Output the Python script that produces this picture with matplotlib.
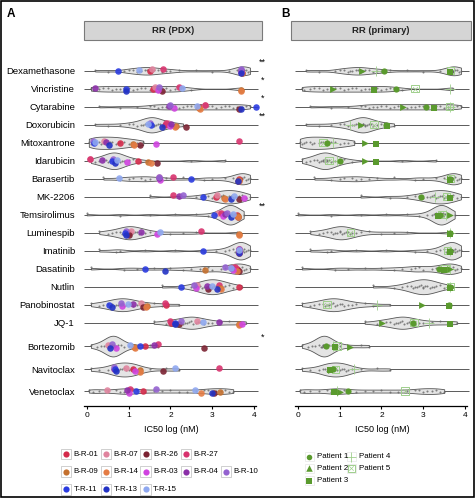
import numpy as np
import matplotlib
matplotlib.use('Agg')
import matplotlib.pyplot as plt
from matplotlib import cbook, mlab
from matplotlib.patches import Rectangle

plt.rcParams['font.family'] = ['Liberation Sans', 'DejaVu Sans']

drugs = ['Dexamethasone', 'Vincristine', 'Cytarabine', 'Doxorubicin', 'Mitoxantrone',
         'Idarubicin', 'Barasertib', 'MK-2206', 'Temsirolimus', 'Luminespib', 'Imatinib',
         'Dasatinib', 'Nutlin', 'Panobinostat', 'JQ-1', 'Bortezomib', 'Navitoclax', 'Venetoclax']

# row positions (Bortezomib, Navitoclax, Venetoclax set apart)
row_pos = [0, 1, 2, 3, 4, 5, 6, 7, 8, 9, 10, 11, 12, 13, 14, 15.3, 16.6, 17.8]

stars = {'Dexamethasone': '**', 'Vincristine': '*', 'Cytarabine': '*',
         'Doxorubicin': '**', 'Temsirolimus': '**', 'Bortezomib': '*'}

samples = ['B-R-01', 'B-R-07', 'B-R-26', 'B-R-27', 'B-R-09', 'B-R-14',
           'B-R-03', 'B-R-04', 'B-R-10', 'T-R-11', 'T-R-13', 'T-R-15']
sample_colors = ['#d42a4a', '#e0849e', '#7b2232', '#d8336e', '#c4702e', '#e47c44',
                 '#d043e0', '#8b2fa8', '#9462d0', '#2a3be0', '#2232c4', '#8fa8f0']

# reference cohort (grey dots / violins), log IC50
ref_ic50 = [
    [0.2, 0.5, 0.9, 1.0, 1.1, 1.2, 1.25, 1.3, 1.4, 1.45, 1.5, 1.55, 1.6, 1.7, 1.8, 1.9, 2.0, 2.2, 2.6, 3.0, 3.4, 3.6, 3.65, 3.7, 3.7, 3.72, 3.75, 3.8, 3.85, 3.9],
    [0.1, 0.15, 0.3, 0.4, 0.5, 0.6, 0.7, 0.8, 0.9, 1.0, 1.1, 1.2, 1.3, 1.4, 1.5, 1.6, 1.7, 1.8, 1.9, 2.0, 2.1, 2.2, 2.3, 2.5, 3.7, 3.7],
    [0.3, 0.8, 1.2, 1.5, 1.6, 1.7, 1.8, 1.9, 2.0, 2.1, 2.2, 2.3, 2.4, 2.5, 2.6, 2.7, 2.8, 2.9, 3.0, 3.1, 3.2, 3.3, 3.4, 3.5, 3.6, 3.7, 3.8, 3.9],
    [0.2, 0.5, 0.8, 1.0, 1.1, 1.2, 1.3, 1.35, 1.4, 1.45, 1.5, 1.5, 1.55, 1.55, 1.6, 1.6, 1.65, 1.7, 1.75, 1.8, 1.9, 2.0, 2.1, 2.3],
    [0.05, 0.1, 0.15, 0.2, 0.3, 0.35, 0.4, 0.5, 0.55, 0.6, 0.7, 0.75, 0.8, 0.9, 1.0, 1.1, 1.2, 1.35],
    [0.1, 0.2, 0.3, 0.4, 0.45, 0.5, 0.55, 0.6, 0.6, 0.65, 0.65, 0.7, 0.7, 0.75, 0.8, 0.85, 0.9, 1.0, 1.1, 1.3, 2.5, 3.3],
    [0.4, 0.8, 1.0, 1.1, 1.3, 1.4, 1.5, 1.7, 1.9, 2.3, 2.8, 3.0, 3.3, 3.5, 3.6, 3.65, 3.7, 3.7, 3.75, 3.8, 3.85, 3.9],
    [1.5, 2.2, 2.6, 2.8, 2.9, 3.0, 3.1, 3.15, 3.2, 3.25, 3.3, 3.35, 3.4, 3.45, 3.5, 3.55, 3.6, 3.65, 3.7, 3.8, 3.9],
    [0.0, 0.8, 1.5, 2.1, 2.6, 2.9, 3.1, 3.2, 3.25, 3.3, 3.33, 3.35, 3.38, 3.4, 3.4, 3.42, 3.44, 3.45, 3.46, 3.48, 3.5, 3.52, 3.55, 3.6, 3.65, 3.75],
    [0.3, 0.5, 0.6, 0.7, 0.8, 0.85, 0.9, 0.95, 1.0, 1.0, 1.05, 1.1, 1.15, 1.2, 1.25, 1.3, 1.4, 1.5, 1.7, 2.0, 2.3, 2.6, 3.6],
    [0.3, 0.7, 0.8, 1.4, 2.1, 2.8, 3.1, 3.3, 3.4, 3.5, 3.55, 3.6, 3.6, 3.65, 3.65, 3.7, 3.7, 3.7, 3.75, 3.75, 3.8, 3.85, 3.9],
    [0.1, 0.9, 1.2, 1.6, 2.0, 2.3, 2.5, 2.7, 2.8, 2.9, 3.0, 3.2, 3.3, 3.4, 3.5, 3.55, 3.6, 3.65, 3.7, 3.75, 3.8, 3.9],
    [1.8, 2.3, 2.5, 2.6, 2.7, 2.75, 2.8, 2.85, 2.9, 2.95, 3.0, 3.0, 3.05, 3.1, 3.15, 3.2, 3.25, 3.3, 3.4, 3.5, 3.7],
    [0.1, 0.3, 0.4, 0.5, 0.6, 0.65, 0.7, 0.75, 0.8, 0.85, 0.9, 0.95, 1.0, 1.05, 1.1, 1.2, 1.3, 1.4, 1.6, 1.8, 2.2],
    [1.6, 1.9, 2.0, 2.1, 2.2, 2.3, 2.35, 2.4, 2.45, 2.5, 2.55, 2.6, 2.65, 2.7, 2.8, 2.9, 3.0, 3.2, 3.4, 3.6, 3.8],
    [0.1, 0.25, 0.35, 0.42, 0.5, 0.55, 0.58, 0.6, 0.6, 0.61, 0.62, 0.63, 0.64, 0.65, 0.66, 0.68, 0.7, 0.75, 0.82, 0.9, 1.0, 1.2, 1.5, 1.7],
    [0.1, 0.3, 0.5, 0.6, 0.65, 0.7, 0.75, 0.8, 0.85, 0.9, 0.95, 1.0, 1.05, 1.1, 1.15, 1.2, 1.3, 1.5, 1.9, 2.2],
    [0.05, 0.15, 0.3, 0.5, 0.7, 0.8, 0.9, 1.0, 1.1, 1.2, 1.4, 1.6, 1.8, 2.0, 2.2, 2.4, 2.6, 2.8, 2.9, 3.0, 3.1, 3.2, 3.3, 3.4, 3.5],
]

# PDX samples, one row per drug, columns in the order of `samples`
pdx_ic50 = [
    [1.50, 1.55, 3.70, 1.82, 3.68, 3.70, 3.69, 3.68, 3.69, 0.74, 3.68, 1.26],
    [1.58, 1.62, 1.79, 2.21, 3.69, 3.69, 1.70, 0.20, 1.72, 0.94, 0.94, 2.27],
    [2.69, 2.83, 3.65, 2.83, 2.69, 2.70, 2.09, 1.97, 2.00, 4.05, 3.69, 2.63],
    [1.87, 1.95, 2.38, 1.90, 2.13, 2.10, 2.00, 2.02, 1.50, 1.53, 1.79, 1.47],
    [0.80, 0.41, 1.27, 3.65, 1.10, 1.12, 1.66, 0.45, 0.16, 0.18, 0.54, 0.20],
    [1.23, 0.08, 1.67, 0.08, 1.47, 1.53, 0.97, 0.36, 0.62, 0.60, 0.68, 0.73],
    [3.63, 1.73, 3.62, 2.05, 3.63, 3.64, 1.74, 1.72, 1.72, 2.49, 3.61, 0.78],
    [3.09, 3.12, 3.65, 2.07, 3.28, 3.30, 3.76, 2.21, 2.29, 2.77, 3.44, 3.52],
    [3.60, 3.14, 3.62, 3.20, 3.61, 3.62, 3.25, 3.30, 3.35, 3.05, 3.45, 3.50],
    [1.02, 1.05, 1.00, 2.72, 3.63, 3.63, 1.67, 1.29, 0.95, 0.92, 0.95, 1.74],
    [3.63, 3.63, 3.63, 3.63, 3.63, 3.63, 3.63, 3.63, 3.63, 2.77, 3.63, 3.63],
    [3.58, 3.50, 3.65, 3.55, 2.83, 3.60, 3.50, 3.44, 3.30, 1.39, 1.87, 3.45],
    [3.65, 2.63, 2.90, 3.15, 3.18, 3.20, 2.60, 2.88, 2.56, 2.25, 3.12, 3.00],
    [1.90, 1.30, 1.35, 1.88, 1.43, 1.42, 0.85, 1.11, 0.81, 0.53, 0.60, 0.98],
    [2.01, 2.63, 2.20, 2.00, 3.63, 3.64, 3.70, 3.17, 2.25, 2.10, 2.12, 2.77],
    [1.40, 0.50, 2.81, 1.71, 1.13, 1.15, 0.70, 1.61, 0.60, 1.27, 0.55, 1.04],
    [1.11, 0.95, 1.83, 3.17, 1.27, 1.28, 1.15, 0.64, 0.66, 0.68, 0.70, 2.10],
    [1.35, 0.49, 3.05, 1.03, 3.18, 2.73, 1.00, 0.97, 1.66, 1.18, 3.00, 2.59],
]

patients = ['Patient 1', 'Patient 2', 'Patient 3', 'Patient 4', 'Patient 5']
# primary samples, one row per drug: Patient 1..5
patient_ic50 = [
    [2.06, 1.54, 3.65, 1.88, 3.65],
    [2.36, 0.84, 1.83, 3.65, 2.80],
    [3.06, 2.52, 3.26, 3.65, 3.62],
    [2.10, 1.51, 2.14, 1.25, 1.82],
    [0.71, 1.60, 1.88, 0.85, 0.60],
    [1.00, 1.60, 1.88, 0.95, 0.75],
    [3.65, 3.65, 3.65, 3.62, 3.65],
    [2.94, 3.65, 3.65, 3.28, 3.55],
    [3.40, 3.65, 3.34, 3.55, 3.45],
    [3.65, 3.65, 3.65, 3.65, 1.26],
    [3.65, 3.65, 3.65, 3.65, 3.58],
    [3.38, 3.65, 3.50, 3.65, 3.52],
    [3.65, 3.66, 3.65, 3.65, 3.65],
    [3.61, 2.96, 3.61, 1.90, 0.70],
    [2.76, 2.02, 3.65, 3.14, 2.78],
    [0.68, 1.24, 0.90, 0.85, 0.94],
    [0.85, 0.80, 0.78, 1.34, 0.90],
    [1.20, 1.00, 0.86, 0.95, 2.56],
]

green = '#5a9a2e'
light_green = '#9fcf8c'

W, H = 477, 503
fig = plt.figure(figsize=(W / 100, H / 100), dpi=100)


def px_box(x0, x1, y0, y1):
    return [x0 / W, 1 - y1 / H, (x1 - x0) / W, (y1 - y0) / H]


BW = 0.18  # kde bandwidth in log units


def kde(X, coords):
    X = np.asarray(X, float)
    return mlab.GaussianKDE(X, BW / X.std(ddof=1)).evaluate(coords)


vpstats = cbook.violin_stats(ref_ic50, kde, points=150)
peak = max(s['vals'].max() for s in vpstats)
vwidths = [1.15 * s['vals'].max() / peak for s in vpstats]

pdx_jit = [0.0, -0.08, 0.1, -0.1, 0.05, 0.12, 0.08, -0.05, -0.12, 0.0, 0.1, -0.06]
pat_jit = [0.0, 0.03, 0.05, 0.0, 0.0]


def draw_panel(ax, show_labels):
    ax.hlines(row_pos, -0.06, 4.09, color='#5a5a5a', lw=0.7, zorder=1, clip_on=False)
    parts = ax.violin(vpstats, positions=row_pos, orientation='horizontal',
                      widths=vwidths, showextrema=False)
    for b in parts['bodies']:
        b.set_facecolor('#e4e4e4')
        b.set_edgecolor('#555555')
        b.set_linewidth(0.6)
        b.set_alpha(1)
        b.set_zorder(2)
    for i, vals in enumerate(ref_ic50):
        n = len(vals)
        jit = ((np.arange(n) * 7) % 9 - 4) / 4 * 0.07
        ax.scatter(vals, row_pos[i] + jit, s=2.2, color='#666666', alpha=0.8,
                   lw=0, zorder=3)
    ax.set_xlim(-0.065, 4.09)
    ax.set_ylim(18.63, -0.6)
    for s in ['top', 'right', 'left']:
        ax.spines[s].set_visible(False)
    ax.spines['bottom'].set_bounds(-0.065, 4.04)
    ax.spines['bottom'].set_linewidth(0.9)
    ax.set_xticks([0, 1, 2, 3, 4])
    ax.tick_params(axis='x', labelsize=6, length=2.5, width=0.8, pad=2)
    ax.set_yticks(row_pos)
    if show_labels:
        ax.set_yticklabels(drugs, fontsize=6.8)
        ax.tick_params(axis='y', length=0, pad=6.5)
    else:
        ax.set_yticklabels([])
        ax.tick_params(axis='y', length=0)
    ax.set_xlabel('IC50 log (nM)', fontsize=6.5, labelpad=4)
    ax.patch.set_alpha(0)


axA = fig.add_axes(px_box(84, 257.9, 60, 406))
axB = fig.add_axes(px_box(295, 468.9, 60, 406))
draw_panel(axA, True)
draw_panel(axB, False)

# PDX samples
for j, name in enumerate(samples):
    xs = [pdx_ic50[i][j] for i in range(len(drugs))]
    ys = [row_pos[i] + pdx_jit[j] for i in range(len(drugs))]
    axA.scatter(xs, ys, s=22, color=sample_colors[j], alpha=0.9, lw=0,
                zorder=4, clip_on=False)

for i, d in enumerate(drugs):
    if d in stars:
        axA.text(4.2, row_pos[i] - 0.48, stars[d], fontsize=6.5, ha='center',
                 va='center', clip_on=False)

# primary patients
for i in range(len(drugs)):
    y = row_pos[i]
    p = patient_ic50[i]
    axB.scatter(p[3], y, marker='+', s=55, color=light_green, lw=0.6, zorder=4)
    axB.scatter(p[4], y, marker='s', s=28, facecolor='none', edgecolor=light_green,
                lw=0.7, zorder=4)
    axB.scatter(p[4], y, marker='x', s=12, color=light_green, lw=0.5, zorder=4)
    axB.scatter(p[0], y + pat_jit[0], marker='o', s=20, color=green, lw=0, zorder=5)
    axB.scatter(p[1], y + pat_jit[1], marker='>', s=24, color=green, lw=0, zorder=5)
    axB.scatter(p[2], y + pat_jit[2], marker='s', s=20, color=green, lw=0, zorder=5)

# overlay in pixel coordinates for headers, legends and frame
ov = fig.add_axes([0, 0, 1, 1], zorder=-1)
ov.set_xlim(0, W)
ov.set_ylim(H, 0)
ov.axis('off')

for (x0, x1, title) in [(84, 262, 'RR (PDX)'), (291, 471, 'RR (primary)')]:
    ov.add_patch(Rectangle((x0, 21), x1 - x0, 19, facecolor='#d5d5d5',
                           edgecolor='#7a7a7a', lw=0.8))
    ov.text((x0 + x1) / 2, 30.5, title, ha='center', va='center', fontsize=6.8,
            fontweight='bold', color='#222222')

ov.text(7, 13.5, 'A', fontsize=8.5, fontweight='bold', va='center', ha='left')
ov.text(281, 13.5, 'B', fontsize=8.5, fontweight='bold', va='center', ha='left')

ov.add_patch(Rectangle((0.6, 0.6), 473.4, 496.4, fill=False, edgecolor='black', lw=1.2))

# legend A
leg_rows = [[0, 1, 2, 3], [4, 5, 6, 7, 8], [9, 10, 11]]
leg_x = [66, 106, 145.7, 186, 226]
leg_y = [454, 471.7, 489.3]
for r, idx in enumerate(leg_rows):
    for c, j in enumerate(idx):
        x, y = leg_x[c], leg_y[r]
        ov.add_patch(Rectangle((x - 5.3, y - 5.3), 10.6, 10.6, facecolor='white',
                               edgecolor='#c8c8c8', lw=0.6))
        ov.scatter(x, y, s=20, color=sample_colors[j], lw=0)
        ov.text(x + 7.6, y, samples[j], fontsize=5.7, va='center', ha='left')

# legend B
pleg = [(309.3, 456.7), (309.3, 468.3), (309.3, 480.7), (351.3, 456.7), (351.3, 468.3)]
for k, (x, y) in enumerate(pleg):
    ov.add_patch(Rectangle((x - 4.5, y - 4.5), 9, 9, facecolor='white',
                           edgecolor='#e6e6e6', lw=0.5))
    if k == 0:
        ov.scatter(x, y, marker='o', s=16, color=green, lw=0)
    elif k == 1:
        ov.scatter(x, y, marker='^', s=22, color=green, lw=0)
    elif k == 2:
        ov.scatter(x, y, marker='s', s=16, color=green, lw=0)
    elif k == 3:
        ov.scatter(x, y, marker='+', s=60, color=light_green, lw=0.6)
    else:
        ov.scatter(x, y, marker='s', s=26, facecolor='none', edgecolor=light_green, lw=0.7)
        ov.scatter(x, y, marker='x', s=10, color=light_green, lw=0.5)
    ov.text(x + 7.4, y, patients[k], fontsize=5.7, va='center', ha='left')

fig.savefig('out.png', dpi=100)
